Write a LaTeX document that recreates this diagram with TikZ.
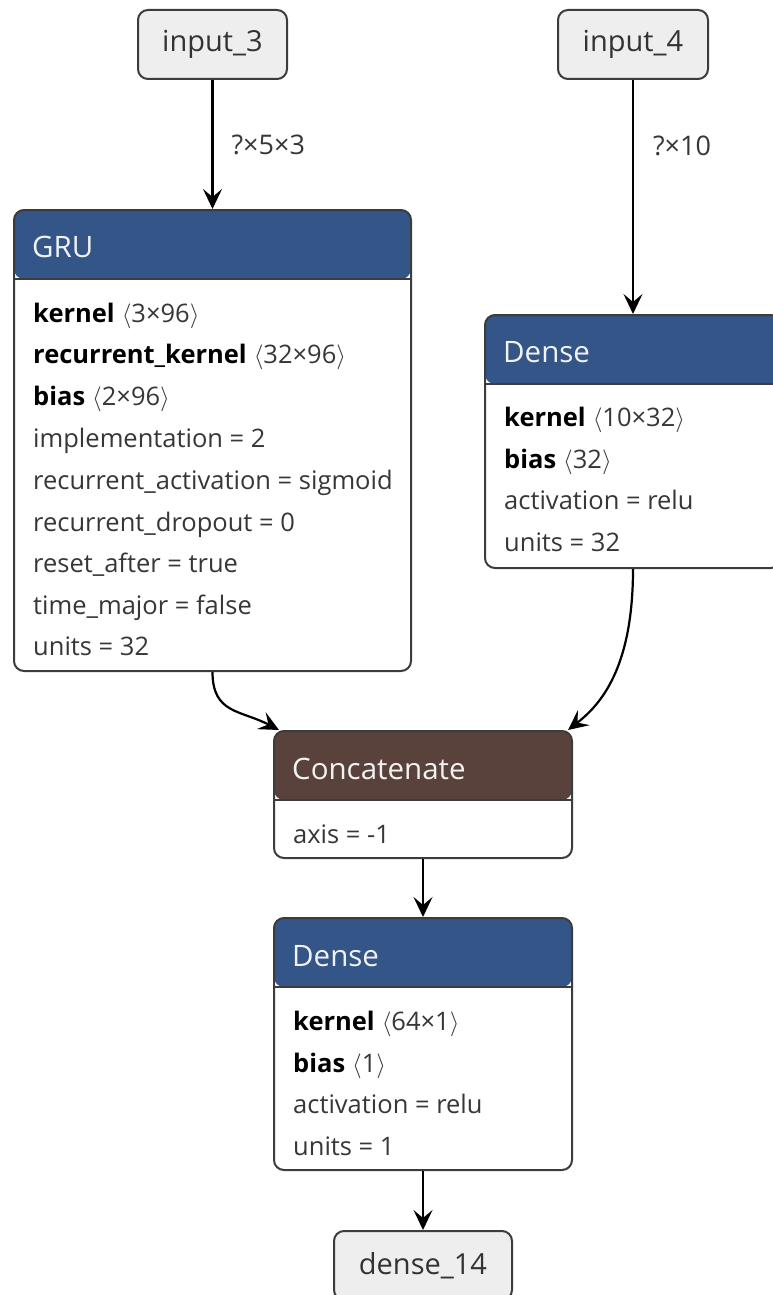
\documentclass[tikz,border=0pt]{standalone}
\usepackage{fontspec}
\setmainfont{Open Sans}
\usetikzlibrary{arrows.meta,calc}

\definecolor{layerhead}{RGB}{51,85,136}
\definecolor{tensorhead}{RGB}{89,66,59}
\definecolor{inputfill}{RGB}{238,238,238}
\definecolor{frame}{RGB}{60,60,60}
\definecolor{proptext}{RGB}{55,55,55}

% weight entry: bold name and its shape in angle brackets
\newcommand{\wt}[2]{\textbf{\color{black}#1}\hspace{7pt}{\fontsize{23}{28}\selectfont$\langle$}#2{\fontsize{23}{28}\selectfont$\rangle$}}

\tikzset{
  iobox/.style={draw=frame, line width=2pt, fill=inputfill, rounded corners=10pt,
    inner sep=0pt, font=\fontsize{29}{34}\selectfont, text=black!80},
  opbox/.style={draw=frame, line width=2pt, fill=white, rounded corners=10pt, inner sep=0pt,
    path picture={\fill[#1] (path picture bounding box.north west) rectangle
      ([yshift=-69pt]path picture bounding box.north east);
      \draw[frame, line width=2pt] ([yshift=-69pt]path picture bounding box.north west) --
      ([yshift=-69pt]path picture bounding box.north east);}},
  title/.style={anchor=base west, inner sep=0pt, text=white!95!black,
    font=\fontsize{29.5}{34}\selectfont},
  prop/.style={anchor=base west, inner sep=0pt, text=proptext,
    font=\fontsize{25.5}{30}\selectfont},
  edgelabel/.style={anchor=west, inner sep=0pt, text=proptext,
    font=\fontsize{27}{32}\selectfont},
  flow/.style={draw=black, line width=2.2pt, -{Stealth[length=20pt,width=19pt,inset=8pt]}},
}

\begin{document}
\begin{tikzpicture}[x=1pt,y=-1pt]
\useasboundingbox (0,0) rectangle (773,1295);

% inputs and output
\node[iobox, minimum width=149pt, minimum height=69pt] (in3) at (212.5,44.5) {input\_3};
\node[iobox, minimum width=150pt, minimum height=69pt] (in4) at (633,44.5) {input\_4};
\node[iobox, minimum width=178pt, minimum height=69pt] (out) at (423,1265.5) {dense\_14};

% GRU layer
\node[opbox=layerhead, minimum width=397pt, minimum height=461pt] (gru) at (212.5,440.5) {};
\node[title] (gruT) at (32,257) {GRU};
\node[prop] (g1) at (33,322) {\wt{kernel}{3×96}};
\node[prop] (g2) at (33,363.5) {\wt{recurrent\_kernel}{32×96}};
\node[prop] (g3) at (33,405) {\wt{bias}{2×96}};
\node[prop] (g4) at (33,447) {implementation = 2};
\node[prop] (g5) at (33,489) {recurrent\_activation = sigmoid};
\node[prop] (g6) at (33,531) {recurrent\_dropout = 0};
\node[prop] (g7) at (33,572.5) {reset\_after = true};
\node[prop] (g8) at (33,614) {time\_major = false};
\node[prop] (g9) at (33,655.5) {units = 32};

% Dense layer on the second input
\node[opbox=layerhead, minimum width=296pt, minimum height=253pt] (d1) at (633,441.5) {};
\node[title] (d1T) at (503,362) {Dense};
\node[prop] (d11) at (504,426) {\wt{kernel}{10×32}};
\node[prop] (d12) at (504,468) {\wt{bias}{32}};
\node[prop] (d13) at (504,509) {activation = relu};
\node[prop] (d14) at (504,551) {units = 32};

% Concatenate
\node[opbox=tensorhead, minimum width=298pt, minimum height=127pt] (cat) at (423,794.5) {};
\node[title] (catT) at (292,779) {Concatenate};
\node[prop] (cat1) at (293,843) {axis = -1};

% final Dense
\node[opbox=layerhead, minimum width=298pt, minimum height=252pt] (d2) at (423,1044) {};
\node[title] (d2T) at (292,966) {Dense};
\node[prop] (d21) at (293,1030) {\wt{kernel}{64×1}};
\node[prop] (d22) at (293,1072) {\wt{bias}{1}};
\node[prop] (d23) at (293,1113) {activation = relu};
\node[prop] (d24) at (293,1155) {units = 1};

% connectors
\coordinate (catL) at ([xshift=6pt]cat.north west);
\coordinate (catR) at ([xshift=-5pt]cat.north east);
\draw[flow] (in3.south) -- node[edgelabel, xshift=18pt] (l1) {?×5×3} (gru.north);
\draw[flow] (in4.south) -- node[edgelabel, xshift=19pt, pos=0.28] (l2) {?×10} (d1.north);
\draw[flow] (gru.south) .. controls +(0,42) and +(-38,-20) .. (catL);
\draw[flow] (d1.south) .. controls +(0,100) and +(32,-25) .. (catR);
\draw[flow] (cat.south) -- (d2.north);
\draw[flow] (d2.south) -- (out.north);
\end{tikzpicture}
\end{document}
